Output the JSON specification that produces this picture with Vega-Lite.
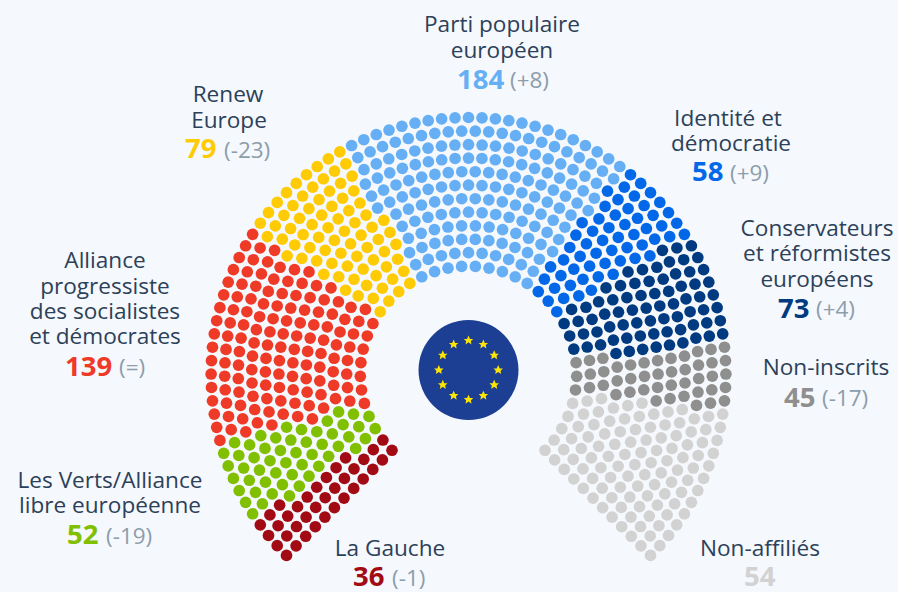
{"$schema":"https://vega.github.io/schema/vega-lite/v6.json","width":898,"height":592,"padding":0,"autosize":{"type":"fit","contains":"padding"},"background":"#f5f8fc","config":{"view":{"stroke":null}},
"encoding":{"x":{"field":"x","type":"quantitative","axis":null,"scale":{"domain":[-468.5,429.5],"nice":false,"zero":false}},"y":{"field":"y","type":"quantitative","axis":null,"scale":{"domain":[-216.7,375.3],"nice":false,"zero":false}}},
"layer":[
{"mark":{"type":"point","filled":true,"opacity":1,"size":136,"shape":"circle"},"encoding":{"color":{"field":"g","type":"nominal","legend":null,"scale":{"domain":["LG","V","SD","RE","PPE","ID","CRE","NI","NA"],"range":["#a30b14","#80c000","#ee3a27","#ffcb05","#66aff5","#0368e8","#003a80","#8f8f8f","#d2d2d2"]}}},
"data":{"values":[
{"g":"LG","x":-76.5,"y":-76.5},{"g":"LG","x":-85.6,"y":-66.2},{"g":"V","x":-93.3,"y":-54.8},{"g":"V","x":-99.5,"y":-42.5},{"g":"SD","x":-104.1,"y":-29.5},{"g":"SD","x":-107,"y":-16},{"g":"SD","x":-108.2,"y":-2.3},{"g":"SD","x":-107.6,"y":11.5},{"g":"SD","x":-105.3,"y":25},{"g":"SD","x":-101.2,"y":38.2},{"g":"SD","x":-95.6,"y":50.7},{"g":"RE","x":-88.3,"y":62.5},{"g":"RE","x":-79.7,"y":73.2},{"g":"RE","x":-69.8,"y":82.7},{"g":"RE","x":-58.7,"y":90.9},{"g":"PPE","x":-46.7,"y":97.6},{"g":"PPE","x":-33.9,"y":102.8},{"g":"PPE","x":-20.5,"y":106.2},{"g":"PPE","x":-6.9,"y":108},{"g":"PPE","x":6.9,"y":108},{"g":"PPE","x":20.5,"y":106.2},{"g":"PPE","x":33.9,"y":102.8},{"g":"PPE","x":46.7,"y":97.6},{"g":"PPE","x":58.7,"y":90.9},{"g":"ID","x":69.8,"y":82.7},{"g":"ID","x":79.7,"y":73.2},{"g":"ID","x":88.3,"y":62.5},{"g":"CRE","x":95.6,"y":50.7},{"g":"CRE","x":101.2,"y":38.2},{"g":"CRE","x":105.3,"y":25},{"g":"NI","x":107.6,"y":11.5},{"g":"NI","x":108.2,"y":-2.3},{"g":"NI","x":107,"y":-16},{"g":"NA","x":104.1,"y":-29.5},{"g":"NA","x":99.5,"y":-42.5},{"g":"NA","x":93.3,"y":-54.8},{"g":"NA","x":85.6,"y":-66.2},{"g":"NA","x":76.5,"y":-76.5},
{"g":"LG","x":-86.1,"y":-86.1},{"g":"LG","x":-95.2,"y":-75.9},{"g":"V","x":-103.1,"y":-64.8},{"g":"V","x":-109.7,"y":-52.8},{"g":"V","x":-115,"y":-40.2},{"g":"SD","x":-118.7,"y":-27.1},{"g":"SD","x":-121,"y":-13.6},{"g":"SD","x":-121.8,"y":0},{"g":"SD","x":-121,"y":13.6},{"g":"SD","x":-118.7,"y":27.1},{"g":"SD","x":-115,"y":40.2},{"g":"SD","x":-109.7,"y":52.8},{"g":"SD","x":-103.1,"y":64.8},{"g":"RE","x":-95.2,"y":75.9},{"g":"RE","x":-86.1,"y":86.1},{"g":"RE","x":-75.9,"y":95.2},{"g":"RE","x":-64.8,"y":103.1},{"g":"PPE","x":-52.8,"y":109.7},{"g":"PPE","x":-40.2,"y":115},{"g":"PPE","x":-27.1,"y":118.7},{"g":"PPE","x":-13.6,"y":121},{"g":"PPE","x":0,"y":121.8},{"g":"PPE","x":13.6,"y":121},{"g":"PPE","x":27.1,"y":118.7},{"g":"PPE","x":40.2,"y":115},{"g":"PPE","x":52.8,"y":109.7},{"g":"PPE","x":64.8,"y":103.1},{"g":"ID","x":75.9,"y":95.2},{"g":"ID","x":86.1,"y":86.1},{"g":"ID","x":95.2,"y":75.9},{"g":"CRE","x":103.1,"y":64.8},{"g":"CRE","x":109.7,"y":52.8},{"g":"CRE","x":115,"y":40.2},{"g":"CRE","x":118.7,"y":27.1},{"g":"NI","x":121,"y":13.6},{"g":"NI","x":121.8,"y":0},{"g":"NI","x":121,"y":-13.6},{"g":"NA","x":118.7,"y":-27.1},{"g":"NA","x":115,"y":-40.2},{"g":"NA","x":109.7,"y":-52.8},{"g":"NA","x":103.1,"y":-64.8},{"g":"NA","x":95.2,"y":-75.9},{"g":"NA","x":86.1,"y":-86.1},
{"g":"LG","x":-95.7,"y":-95.7},{"g":"LG","x":-104.7,"y":-85.6},{"g":"V","x":-112.8,"y":-74.7},{"g":"V","x":-119.7,"y":-63},{"g":"V","x":-125.4,"y":-50.7},{"g":"V","x":-129.9,"y":-37.9},{"g":"SD","x":-133,"y":-24.7},{"g":"SD","x":-134.8,"y":-11.3},{"g":"SD","x":-135.3,"y":2.3},{"g":"SD","x":-134.4,"y":15.8},{"g":"SD","x":-132.1,"y":29.2},{"g":"SD","x":-128.5,"y":42.2},{"g":"SD","x":-123.6,"y":54.9},{"g":"SD","x":-117.5,"y":67},{"g":"RE","x":-110.3,"y":78.4},{"g":"RE","x":-101.9,"y":89},{"g":"RE","x":-92.4,"y":98.8},{"g":"RE","x":-82.1,"y":107.6},{"g":"RE","x":-70.9,"y":115.2},{"g":"PPE","x":-59,"y":121.8},{"g":"PPE","x":-46.5,"y":127},{"g":"PPE","x":-33.6,"y":131.1},{"g":"PPE","x":-20.3,"y":133.8},{"g":"PPE","x":-6.8,"y":135.1},{"g":"PPE","x":6.8,"y":135.1},{"g":"PPE","x":20.3,"y":133.8},{"g":"PPE","x":33.6,"y":131.1},{"g":"PPE","x":46.5,"y":127},{"g":"PPE","x":59,"y":121.8},{"g":"PPE","x":70.9,"y":115.2},{"g":"ID","x":82.1,"y":107.6},{"g":"ID","x":92.4,"y":98.8},{"g":"ID","x":101.9,"y":89},{"g":"ID","x":110.3,"y":78.4},{"g":"CRE","x":117.5,"y":67},{"g":"CRE","x":123.6,"y":54.9},{"g":"CRE","x":128.5,"y":42.2},{"g":"CRE","x":132.1,"y":29.2},{"g":"NI","x":134.4,"y":15.8},{"g":"NI","x":135.3,"y":2.3},{"g":"NI","x":134.8,"y":-11.3},{"g":"NA","x":133,"y":-24.7},{"g":"NA","x":129.9,"y":-37.9},{"g":"NA","x":125.4,"y":-50.7},{"g":"NA","x":119.7,"y":-63},{"g":"NA","x":112.8,"y":-74.7},{"g":"NA","x":104.7,"y":-85.6},{"g":"NA","x":95.7,"y":-95.7},
{"g":"LG","x":-105.3,"y":-105.3},{"g":"LG","x":-114.5,"y":-95.1},{"g":"LG","x":-122.9,"y":-84.1},{"g":"V","x":-130.1,"y":-72.5},{"g":"V","x":-136.2,"y":-60.1},{"g":"V","x":-141.2,"y":-47.3},{"g":"SD","x":-144.9,"y":-34.1},{"g":"SD","x":-147.5,"y":-20.6},{"g":"SD","x":-148.7,"y":-6.9},{"g":"SD","x":-148.7,"y":6.9},{"g":"SD","x":-147.5,"y":20.6},{"g":"SD","x":-144.9,"y":34.1},{"g":"SD","x":-141.2,"y":47.3},{"g":"SD","x":-136.2,"y":60.1},{"g":"SD","x":-130.1,"y":72.5},{"g":"RE","x":-122.9,"y":84.1},{"g":"RE","x":-114.5,"y":95.1},{"g":"RE","x":-105.3,"y":105.3},{"g":"RE","x":-95.1,"y":114.5},{"g":"RE","x":-84.1,"y":122.9},{"g":"RE","x":-72.5,"y":130.1},{"g":"PPE","x":-60.1,"y":136.2},{"g":"PPE","x":-47.3,"y":141.2},{"g":"PPE","x":-34.1,"y":144.9},{"g":"PPE","x":-20.6,"y":147.5},{"g":"PPE","x":-6.9,"y":148.7},{"g":"PPE","x":6.9,"y":148.7},{"g":"PPE","x":20.6,"y":147.5},{"g":"PPE","x":34.1,"y":144.9},{"g":"PPE","x":47.3,"y":141.2},{"g":"PPE","x":60.1,"y":136.2},{"g":"PPE","x":72.5,"y":130.1},{"g":"PPE","x":84.1,"y":122.9},{"g":"ID","x":95.1,"y":114.5},{"g":"ID","x":105.3,"y":105.3},{"g":"ID","x":114.5,"y":95.1},{"g":"ID","x":122.9,"y":84.1},{"g":"CRE","x":130.1,"y":72.5},{"g":"CRE","x":136.2,"y":60.1},{"g":"CRE","x":141.2,"y":47.3},{"g":"CRE","x":144.9,"y":34.1},{"g":"CRE","x":147.5,"y":20.6},{"g":"NI","x":148.7,"y":6.9},{"g":"NI","x":148.7,"y":-6.9},{"g":"NI","x":147.5,"y":-20.6},{"g":"NA","x":144.9,"y":-34.1},{"g":"NA","x":141.2,"y":-47.3},{"g":"NA","x":136.2,"y":-60.1},{"g":"NA","x":130.1,"y":-72.5},{"g":"NA","x":122.9,"y":-84.1},{"g":"NA","x":114.5,"y":-95.1},{"g":"NA","x":105.3,"y":-105.3},
{"g":"LG","x":-114.8,"y":-114.8},{"g":"LG","x":-124.1,"y":-104.7},{"g":"LG","x":-132.4,"y":-94},{"g":"V","x":-139.9,"y":-82.5},{"g":"V","x":-146.3,"y":-70.5},{"g":"V","x":-151.7,"y":-57.9},{"g":"SD","x":-156.1,"y":-45},{"g":"SD","x":-159.3,"y":-31.7},{"g":"SD","x":-161.4,"y":-18.2},{"g":"SD","x":-162.3,"y":-4.6},{"g":"SD","x":-162.1,"y":9.1},{"g":"SD","x":-160.8,"y":22.7},{"g":"SD","x":-158.3,"y":36.1},{"g":"SD","x":-154.7,"y":49.3},{"g":"SD","x":-150,"y":62.1},{"g":"SD","x":-144.3,"y":74.5},{"g":"SD","x":-137.5,"y":86.4},{"g":"RE","x":-129.8,"y":97.6},{"g":"RE","x":-121.1,"y":108.2},{"g":"RE","x":-111.6,"y":118},{"g":"RE","x":-101.3,"y":127},{"g":"RE","x":-90.2,"y":135},{"g":"RE","x":-78.6,"y":142.1},{"g":"PPE","x":-66.3,"y":148.2},{"g":"PPE","x":-53.6,"y":153.3},{"g":"PPE","x":-40.6,"y":157.3},{"g":"PPE","x":-27.2,"y":160.1},{"g":"PPE","x":-13.6,"y":161.8},{"g":"PPE","x":0,"y":162.4},{"g":"PPE","x":13.6,"y":161.8},{"g":"PPE","x":27.2,"y":160.1},{"g":"PPE","x":40.6,"y":157.3},{"g":"PPE","x":53.6,"y":153.3},{"g":"PPE","x":66.3,"y":148.2},{"g":"PPE","x":78.6,"y":142.1},{"g":"PPE","x":90.2,"y":135},{"g":"ID","x":101.3,"y":127},{"g":"ID","x":111.6,"y":118},{"g":"ID","x":121.1,"y":108.2},{"g":"ID","x":129.8,"y":97.6},{"g":"CRE","x":137.5,"y":86.4},{"g":"CRE","x":144.3,"y":74.5},{"g":"CRE","x":150,"y":62.1},{"g":"CRE","x":154.7,"y":49.3},{"g":"CRE","x":158.3,"y":36.1},{"g":"CRE","x":160.8,"y":22.7},{"g":"NI","x":162.1,"y":9.1},{"g":"NI","x":162.3,"y":-4.6},{"g":"NI","x":161.4,"y":-18.2},{"g":"NA","x":159.3,"y":-31.7},{"g":"NA","x":156.1,"y":-45},{"g":"NA","x":151.7,"y":-57.9},{"g":"NA","x":146.3,"y":-70.5},{"g":"NA","x":139.9,"y":-82.5},{"g":"NA","x":132.4,"y":-94},{"g":"NA","x":124.1,"y":-104.7},{"g":"NA","x":114.8,"y":-114.8},
{"g":"LG","x":-124.5,"y":-124.5},{"g":"LG","x":-133.7,"y":-114.5},{"g":"LG","x":-142.1,"y":-103.8},{"g":"V","x":-149.7,"y":-92.5},{"g":"V","x":-156.4,"y":-80.7},{"g":"V","x":-162.2,"y":-68.4},{"g":"V","x":-167,"y":-55.7},{"g":"SD","x":-170.8,"y":-42.6},{"g":"SD","x":-173.5,"y":-29.3},{"g":"SD","x":-175.3,"y":-15.8},{"g":"SD","x":-176,"y":-2.3},{"g":"SD","x":-175.6,"y":11.3},{"g":"SD","x":-174.2,"y":24.8},{"g":"SD","x":-171.8,"y":38.2},{"g":"SD","x":-168.3,"y":51.4},{"g":"SD","x":-163.9,"y":64.2},{"g":"SD","x":-158.4,"y":76.6},{"g":"SD","x":-152,"y":88.7},{"g":"RE","x":-144.7,"y":100.1},{"g":"RE","x":-136.6,"y":111},{"g":"RE","x":-127.6,"y":121.2},{"g":"RE","x":-117.9,"y":130.7},{"g":"RE","x":-107.4,"y":139.4},{"g":"RE","x":-96.4,"y":147.3},{"g":"RE","x":-84.7,"y":154.3},{"g":"PPE","x":-72.5,"y":160.4},{"g":"PPE","x":-60,"y":165.5},{"g":"PPE","x":-47,"y":169.6},{"g":"PPE","x":-33.8,"y":172.7},{"g":"PPE","x":-20.3,"y":174.8},{"g":"PPE","x":-6.8,"y":175.9},{"g":"PPE","x":6.8,"y":175.9},{"g":"PPE","x":20.3,"y":174.8},{"g":"PPE","x":33.8,"y":172.7},{"g":"PPE","x":47,"y":169.6},{"g":"PPE","x":60,"y":165.5},{"g":"PPE","x":72.5,"y":160.4},{"g":"PPE","x":84.7,"y":154.3},{"g":"PPE","x":96.4,"y":147.3},{"g":"ID","x":107.4,"y":139.4},{"g":"ID","x":117.9,"y":130.7},{"g":"ID","x":127.6,"y":121.2},{"g":"ID","x":136.6,"y":111},{"g":"ID","x":144.7,"y":100.1},{"g":"CRE","x":152,"y":88.7},{"g":"CRE","x":158.4,"y":76.6},{"g":"CRE","x":163.9,"y":64.2},{"g":"CRE","x":168.3,"y":51.4},{"g":"CRE","x":171.8,"y":38.2},{"g":"CRE","x":174.2,"y":24.8},{"g":"NI","x":175.6,"y":11.3},{"g":"NI","x":176,"y":-2.3},{"g":"NI","x":175.3,"y":-15.8},{"g":"NA","x":173.5,"y":-29.3},{"g":"NA","x":170.8,"y":-42.6},{"g":"NA","x":167,"y":-55.7},{"g":"NA","x":162.2,"y":-68.4},{"g":"NA","x":156.4,"y":-80.7},{"g":"NA","x":149.7,"y":-92.5},{"g":"NA","x":142.1,"y":-103.8},{"g":"NA","x":133.7,"y":-114.5},{"g":"NA","x":124.5,"y":-124.5},
{"g":"LG","x":-134.1,"y":-134.1},{"g":"LG","x":-143.3,"y":-124.1},{"g":"LG","x":-151.8,"y":-113.6},{"g":"V","x":-159.5,"y":-102.5},{"g":"V","x":-166.4,"y":-90.9},{"g":"V","x":-172.5,"y":-78.8},{"g":"V","x":-177.7,"y":-66.2},{"g":"V","x":-181.9,"y":-53.4},{"g":"SD","x":-185.3,"y":-40.3},{"g":"SD","x":-187.7,"y":-27},{"g":"SD","x":-189.1,"y":-13.5},{"g":"SD","x":-189.6,"y":0},{"g":"SD","x":-189.1,"y":13.5},{"g":"SD","x":-187.7,"y":27},{"g":"SD","x":-185.3,"y":40.3},{"g":"SD","x":-181.9,"y":53.4},{"g":"SD","x":-177.7,"y":66.2},{"g":"SD","x":-172.5,"y":78.8},{"g":"SD","x":-166.4,"y":90.9},{"g":"SD","x":-159.5,"y":102.5},{"g":"RE","x":-151.8,"y":113.6},{"g":"RE","x":-143.3,"y":124.1},{"g":"RE","x":-134.1,"y":134.1},{"g":"RE","x":-124.1,"y":143.3},{"g":"RE","x":-113.6,"y":151.8},{"g":"RE","x":-102.5,"y":159.5},{"g":"PPE","x":-90.9,"y":166.4},{"g":"PPE","x":-78.8,"y":172.5},{"g":"PPE","x":-66.2,"y":177.7},{"g":"PPE","x":-53.4,"y":181.9},{"g":"PPE","x":-40.3,"y":185.3},{"g":"PPE","x":-27,"y":187.7},{"g":"PPE","x":-13.5,"y":189.1},{"g":"PPE","x":0,"y":189.6},{"g":"PPE","x":13.5,"y":189.1},{"g":"PPE","x":27,"y":187.7},{"g":"PPE","x":40.3,"y":185.3},{"g":"PPE","x":53.4,"y":181.9},{"g":"PPE","x":66.2,"y":177.7},{"g":"PPE","x":78.8,"y":172.5},{"g":"PPE","x":90.9,"y":166.4},{"g":"PPE","x":102.5,"y":159.5},{"g":"ID","x":113.6,"y":151.8},{"g":"ID","x":124.1,"y":143.3},{"g":"ID","x":134.1,"y":134.1},{"g":"ID","x":143.3,"y":124.1},{"g":"ID","x":151.8,"y":113.6},{"g":"CRE","x":159.5,"y":102.5},{"g":"CRE","x":166.4,"y":90.9},{"g":"CRE","x":172.5,"y":78.8},{"g":"CRE","x":177.7,"y":66.2},{"g":"CRE","x":181.9,"y":53.4},{"g":"CRE","x":185.3,"y":40.3},{"g":"CRE","x":187.7,"y":27},{"g":"NI","x":189.1,"y":13.5},{"g":"NI","x":189.6,"y":0},{"g":"NI","x":189.1,"y":-13.5},{"g":"NI","x":187.7,"y":-27},{"g":"NA","x":185.3,"y":-40.3},{"g":"NA","x":181.9,"y":-53.4},{"g":"NA","x":177.7,"y":-66.2},{"g":"NA","x":172.5,"y":-78.8},{"g":"NA","x":166.4,"y":-90.9},{"g":"NA","x":159.5,"y":-102.5},{"g":"NA","x":151.8,"y":-113.6},{"g":"NA","x":143.3,"y":-124.1},{"g":"NA","x":134.1,"y":-134.1},
{"g":"LG","x":-143.6,"y":-143.6},{"g":"LG","x":-152.8,"y":-133.8},{"g":"LG","x":-161.3,"y":-123.4},{"g":"V","x":-169.2,"y":-112.4},{"g":"V","x":-176.3,"y":-100.9},{"g":"V","x":-182.6,"y":-89},{"g":"V","x":-188.1,"y":-76.7},{"g":"V","x":-192.7,"y":-64},{"g":"SD","x":-196.6,"y":-51.1},{"g":"SD","x":-199.5,"y":-38},{"g":"SD","x":-201.6,"y":-24.6},{"g":"SD","x":-202.8,"y":-11.2},{"g":"SD","x":-203.1,"y":2.2},{"g":"SD","x":-202.5,"y":15.7},{"g":"SD","x":-201,"y":29.1},{"g":"SD","x":-198.6,"y":42.4},{"g":"SD","x":-195.4,"y":55.5},{"g":"SD","x":-191.3,"y":68.3},{"g":"SD","x":-186.3,"y":80.8},{"g":"SD","x":-180.6,"y":93},{"g":"SD","x":-174,"y":104.8},{"g":"RE","x":-166.6,"y":116.1},{"g":"RE","x":-158.6,"y":126.9},{"g":"RE","x":-149.8,"y":137.1},{"g":"RE","x":-140.4,"y":146.8},{"g":"RE","x":-130.4,"y":155.7},{"g":"RE","x":-119.7,"y":164},{"g":"RE","x":-108.6,"y":171.6},{"g":"PPE","x":-97,"y":178.5},{"g":"PPE","x":-84.9,"y":184.5},{"g":"PPE","x":-72.5,"y":189.7},{"g":"PPE","x":-59.8,"y":194.1},{"g":"PPE","x":-46.8,"y":197.6},{"g":"PPE","x":-33.6,"y":200.3},{"g":"PPE","x":-20.2,"y":202.1},{"g":"PPE","x":-6.7,"y":203},{"g":"PPE","x":6.7,"y":203},{"g":"PPE","x":20.2,"y":202.1},{"g":"PPE","x":33.6,"y":200.3},{"g":"PPE","x":46.8,"y":197.6},{"g":"PPE","x":59.8,"y":194.1},{"g":"PPE","x":72.5,"y":189.7},{"g":"PPE","x":84.9,"y":184.5},{"g":"PPE","x":97,"y":178.5},{"g":"PPE","x":108.6,"y":171.6},{"g":"PPE","x":119.7,"y":164},{"g":"ID","x":130.4,"y":155.7},{"g":"ID","x":140.4,"y":146.8},{"g":"ID","x":149.8,"y":137.1},{"g":"ID","x":158.6,"y":126.9},{"g":"ID","x":166.6,"y":116.1},{"g":"CRE","x":174,"y":104.8},{"g":"CRE","x":180.6,"y":93},{"g":"CRE","x":186.3,"y":80.8},{"g":"CRE","x":191.3,"y":68.3},{"g":"CRE","x":195.4,"y":55.5},{"g":"CRE","x":198.6,"y":42.4},{"g":"CRE","x":201,"y":29.1},{"g":"NI","x":202.5,"y":15.7},{"g":"NI","x":203.1,"y":2.2},{"g":"NI","x":202.8,"y":-11.2},{"g":"NI","x":201.6,"y":-24.6},{"g":"NA","x":199.5,"y":-38},{"g":"NA","x":196.6,"y":-51.1},{"g":"NA","x":192.7,"y":-64},{"g":"NA","x":188.1,"y":-76.7},{"g":"NA","x":182.6,"y":-89},{"g":"NA","x":176.3,"y":-100.9},{"g":"NA","x":169.2,"y":-112.4},{"g":"NA","x":161.3,"y":-123.4},{"g":"NA","x":152.8,"y":-133.8},{"g":"NA","x":143.6,"y":-143.6},
{"g":"LG","x":-153.2,"y":-153.2},{"g":"LG","x":-162.4,"y":-143.5},{"g":"LG","x":-171,"y":-133.1},{"g":"V","x":-179,"y":-122.2},{"g":"V","x":-186.1,"y":-110.9},{"g":"V","x":-192.7,"y":-99.2},{"g":"V","x":-198.5,"y":-87},{"g":"V","x":-203.5,"y":-74.6},{"g":"V","x":-207.7,"y":-61.8},{"g":"SD","x":-211.1,"y":-48.9},{"g":"SD","x":-213.8,"y":-35.6},{"g":"SD","x":-215.5,"y":-22.3},{"g":"SD","x":-216.5,"y":-9},{"g":"SD","x":-216.7,"y":4.5},{"g":"SD","x":-216,"y":17.9},{"g":"SD","x":-214.4,"y":31.2},{"g":"SD","x":-212.1,"y":44.5},{"g":"SD","x":-208.9,"y":57.5},{"g":"SD","x":-205,"y":70.4},{"g":"SD","x":-200.2,"y":82.9},{"g":"SD","x":-194.7,"y":95.2},{"g":"SD","x":-188.4,"y":107.1},{"g":"RE","x":-181.4,"y":118.5},{"g":"RE","x":-173.7,"y":129.5},{"g":"RE","x":-165.4,"y":140},{"g":"RE","x":-156.4,"y":150},{"g":"RE","x":-146.8,"y":159.4},{"g":"RE","x":-136.6,"y":168.2},{"g":"RE","x":-125.9,"y":176.4},{"g":"RE","x":-114.7,"y":183.8},{"g":"PPE","x":-103.1,"y":190.6},{"g":"PPE","x":-91.1,"y":196.6},{"g":"PPE","x":-78.8,"y":201.9},{"g":"PPE","x":-66.1,"y":206.4},{"g":"PPE","x":-53.2,"y":210.1},{"g":"PPE","x":-40.1,"y":213},{"g":"PPE","x":-26.8,"y":215},{"g":"PPE","x":-13.4,"y":216.3},{"g":"PPE","x":0,"y":216.7},{"g":"PPE","x":13.4,"y":216.3},{"g":"PPE","x":26.8,"y":215},{"g":"PPE","x":40.1,"y":213},{"g":"PPE","x":53.2,"y":210.1},{"g":"PPE","x":66.1,"y":206.4},{"g":"PPE","x":78.8,"y":201.9},{"g":"PPE","x":91.1,"y":196.6},{"g":"PPE","x":103.1,"y":190.6},{"g":"PPE","x":114.7,"y":183.8},{"g":"PPE","x":125.9,"y":176.4},{"g":"ID","x":136.6,"y":168.2},{"g":"ID","x":146.8,"y":159.4},{"g":"ID","x":156.4,"y":150},{"g":"ID","x":165.4,"y":140},{"g":"ID","x":173.7,"y":129.5},{"g":"ID","x":181.4,"y":118.5},{"g":"CRE","x":188.4,"y":107.1},{"g":"CRE","x":194.7,"y":95.2},{"g":"CRE","x":200.2,"y":82.9},{"g":"CRE","x":205,"y":70.4},{"g":"CRE","x":208.9,"y":57.5},{"g":"CRE","x":212.1,"y":44.5},{"g":"CRE","x":214.4,"y":31.2},{"g":"NI","x":216,"y":17.9},{"g":"NI","x":216.7,"y":4.5},{"g":"NI","x":216.5,"y":-9},{"g":"NI","x":215.5,"y":-22.3},{"g":"NA","x":213.8,"y":-35.6},{"g":"NA","x":211.1,"y":-48.9},{"g":"NA","x":207.7,"y":-61.8},{"g":"NA","x":203.5,"y":-74.6},{"g":"NA","x":198.5,"y":-87},{"g":"NA","x":192.7,"y":-99.2},{"g":"NA","x":186.1,"y":-110.9},{"g":"NA","x":179,"y":-122.2},{"g":"NA","x":171,"y":-133.1},{"g":"NA","x":162.4,"y":-143.5},{"g":"NA","x":153.2,"y":-153.2},
{"g":"LG","x":-162.8,"y":-162.8},{"g":"LG","x":-172,"y":-153},{"g":"LG","x":-180.8,"y":-142.5},{"g":"LG","x":-188.9,"y":-131.6},{"g":"V","x":-196.3,"y":-120.3},{"g":"V","x":-203,"y":-108.5},{"g":"V","x":-209,"y":-96.4},{"g":"V","x":-214.4,"y":-83.9},{"g":"V","x":-218.9,"y":-71.1},{"g":"SD","x":-222.7,"y":-58.1},{"g":"SD","x":-225.8,"y":-44.9},{"g":"SD","x":-228,"y":-31.5},{"g":"SD","x":-229.5,"y":-18.1},{"g":"SD","x":-230.2,"y":-4.5},{"g":"SD","x":-230,"y":9},{"g":"SD","x":-229.1,"y":22.6},{"g":"SD","x":-227.4,"y":36},{"g":"SD","x":-224.9,"y":49.3},{"g":"SD","x":-221.6,"y":62.5},{"g":"SD","x":-217.5,"y":75.4},{"g":"SD","x":-212.7,"y":88.1},{"g":"SD","x":-207.1,"y":100.5},{"g":"SD","x":-200.9,"y":112.5},{"g":"SD","x":-193.9,"y":124.1},{"g":"RE","x":-186.2,"y":135.3},{"g":"RE","x":-177.9,"y":146},{"g":"RE","x":-169,"y":156.3},{"g":"RE","x":-159.6,"y":165.9},{"g":"RE","x":-149.5,"y":175},{"g":"RE","x":-139,"y":183.5},{"g":"RE","x":-127.9,"y":191.4},{"g":"RE","x":-116.4,"y":198.6},{"g":"PPE","x":-104.5,"y":205.1},{"g":"PPE","x":-92.2,"y":210.9},{"g":"PPE","x":-79.7,"y":216},{"g":"PPE","x":-66.8,"y":220.3},{"g":"PPE","x":-53.7,"y":223.8},{"g":"PPE","x":-40.5,"y":226.6},{"g":"PPE","x":-27,"y":228.6},{"g":"PPE","x":-13.6,"y":229.8},{"g":"PPE","x":0,"y":230.2},{"g":"PPE","x":13.6,"y":229.8},{"g":"PPE","x":27,"y":228.6},{"g":"PPE","x":40.5,"y":226.6},{"g":"PPE","x":53.7,"y":223.8},{"g":"PPE","x":66.8,"y":220.3},{"g":"PPE","x":79.7,"y":216},{"g":"PPE","x":92.2,"y":210.9},{"g":"PPE","x":104.5,"y":205.1},{"g":"PPE","x":116.4,"y":198.6},{"g":"PPE","x":127.9,"y":191.4},{"g":"ID","x":139,"y":183.5},{"g":"ID","x":149.5,"y":175},{"g":"ID","x":159.6,"y":165.9},{"g":"ID","x":169,"y":156.3},{"g":"ID","x":177.9,"y":146},{"g":"ID","x":186.2,"y":135.3},{"g":"CRE","x":193.9,"y":124.1},{"g":"CRE","x":200.9,"y":112.5},{"g":"CRE","x":207.1,"y":100.5},{"g":"CRE","x":212.7,"y":88.1},{"g":"CRE","x":217.5,"y":75.4},{"g":"CRE","x":221.6,"y":62.5},{"g":"CRE","x":224.9,"y":49.3},{"g":"CRE","x":227.4,"y":36},{"g":"NI","x":229.1,"y":22.6},{"g":"NI","x":230,"y":9},{"g":"NI","x":230.2,"y":-4.5},{"g":"NI","x":229.5,"y":-18.1},{"g":"NI","x":228,"y":-31.5},{"g":"NA","x":225.8,"y":-44.9},{"g":"NA","x":222.7,"y":-58.1},{"g":"NA","x":218.9,"y":-71.1},{"g":"NA","x":214.4,"y":-83.9},{"g":"NA","x":209,"y":-96.4},{"g":"NA","x":203,"y":-108.5},{"g":"NA","x":196.3,"y":-120.3},{"g":"NA","x":188.9,"y":-131.6},{"g":"NA","x":180.8,"y":-142.5},{"g":"NA","x":172,"y":-153},{"g":"NA","x":162.8,"y":-162.8},
{"g":"LG","x":-172.4,"y":-172.4},{"g":"LG","x":-181.7,"y":-162.5},{"g":"LG","x":-190.4,"y":-152.2},{"g":"LG","x":-198.6,"y":-141.4},{"g":"V","x":-206.1,"y":-130.2},{"g":"V","x":-213,"y":-118.7},{"g":"V","x":-219.2,"y":-106.6},{"g":"V","x":-224.8,"y":-94.3},{"g":"V","x":-229.7,"y":-81.7},{"g":"V","x":-233.9,"y":-68.9},{"g":"SD","x":-237.3,"y":-55.8},{"g":"SD","x":-240,"y":-42.6},{"g":"SD","x":-242,"y":-29.2},{"g":"SD","x":-243.3,"y":-15.8},{"g":"SD","x":-243.8,"y":-2.2},{"g":"SD","x":-243.5,"y":11.3},{"g":"SD","x":-242.5,"y":24.7},{"g":"SD","x":-240.8,"y":38.1},{"g":"SD","x":-238.3,"y":51.4},{"g":"SD","x":-235.1,"y":64.5},{"g":"SD","x":-231.2,"y":77.5},{"g":"SD","x":-226.5,"y":90.2},{"g":"SD","x":-221.2,"y":102.6},{"g":"SD","x":-215.2,"y":114.7},{"g":"SD","x":-208.4,"y":126.5},{"g":"RE","x":-201.2,"y":137.8},{"g":"RE","x":-193.2,"y":148.7},{"g":"RE","x":-184.6,"y":159.2},{"g":"RE","x":-175.6,"y":169.1},{"g":"RE","x":-165.9,"y":178.6},{"g":"RE","x":-155.8,"y":187.5},{"g":"RE","x":-145.1,"y":195.9},{"g":"RE","x":-134,"y":203.6},{"g":"RE","x":-122.6,"y":210.8},{"g":"PPE","x":-110.7,"y":217.2},{"g":"PPE","x":-98.4,"y":223},{"g":"PPE","x":-86,"y":228.1},{"g":"PPE","x":-73.2,"y":232.6},{"g":"PPE","x":-60.2,"y":236.3},{"g":"PPE","x":-47,"y":239.2},{"g":"PPE","x":-33.7,"y":241.5},{"g":"PPE","x":-20.2,"y":243},{"g":"PPE","x":-6.8,"y":243.7},{"g":"PPE","x":6.8,"y":243.7},{"g":"PPE","x":20.2,"y":243},{"g":"PPE","x":33.7,"y":241.5},{"g":"PPE","x":47,"y":239.2},{"g":"PPE","x":60.2,"y":236.3},{"g":"PPE","x":73.2,"y":232.6},{"g":"PPE","x":86,"y":228.1},{"g":"PPE","x":98.4,"y":223},{"g":"PPE","x":110.7,"y":217.2},{"g":"PPE","x":122.6,"y":210.8},{"g":"PPE","x":134,"y":203.6},{"g":"PPE","x":145.1,"y":195.9},{"g":"ID","x":155.8,"y":187.5},{"g":"ID","x":165.9,"y":178.6},{"g":"ID","x":175.6,"y":169.1},{"g":"ID","x":184.6,"y":159.2},{"g":"ID","x":193.2,"y":148.7},{"g":"ID","x":201.2,"y":137.8},{"g":"CRE","x":208.4,"y":126.5},{"g":"CRE","x":215.2,"y":114.7},{"g":"CRE","x":221.2,"y":102.6},{"g":"CRE","x":226.5,"y":90.2},{"g":"CRE","x":231.2,"y":77.5},{"g":"CRE","x":235.1,"y":64.5},{"g":"CRE","x":238.3,"y":51.4},{"g":"CRE","x":240.8,"y":38.1},{"g":"NI","x":242.5,"y":24.7},{"g":"NI","x":243.5,"y":11.3},{"g":"NI","x":243.8,"y":-2.2},{"g":"NI","x":243.3,"y":-15.8},{"g":"NI","x":242,"y":-29.2},{"g":"NA","x":240,"y":-42.6},{"g":"NA","x":237.3,"y":-55.8},{"g":"NA","x":233.9,"y":-68.9},{"g":"NA","x":229.7,"y":-81.7},{"g":"NA","x":224.8,"y":-94.3},{"g":"NA","x":219.2,"y":-106.6},{"g":"NA","x":213,"y":-118.7},{"g":"NA","x":206.1,"y":-130.2},{"g":"NA","x":198.6,"y":-141.4},{"g":"NA","x":190.4,"y":-152.2},{"g":"NA","x":181.7,"y":-162.5},{"g":"NA","x":172.4,"y":-172.4},
{"g":"LG","x":-182,"y":-182},{"g":"LG","x":-191.3,"y":-172.2},{"g":"LG","x":-200,"y":-162},{"g":"LG","x":-208.2,"y":-151.3},{"g":"V","x":-215.9,"y":-140.2},{"g":"V","x":-222.9,"y":-128.7},{"g":"V","x":-229.3,"y":-116.9},{"g":"V","x":-235.1,"y":-104.7},{"g":"V","x":-240.3,"y":-92.2},{"g":"V","x":-244.8,"y":-79.5},{"g":"SD","x":-248.6,"y":-66.6},{"g":"SD","x":-251.8,"y":-53.5},{"g":"SD","x":-254.2,"y":-40.3},{"g":"SD","x":-256,"y":-26.9},{"g":"SD","x":-257,"y":-13.5},{"g":"SD","x":-257.4,"y":0},{"g":"SD","x":-257,"y":13.5},{"g":"SD","x":-256,"y":26.9},{"g":"SD","x":-254.2,"y":40.3},{"g":"SD","x":-251.8,"y":53.5},{"g":"SD","x":-248.6,"y":66.6},{"g":"SD","x":-244.8,"y":79.5},{"g":"SD","x":-240.3,"y":92.2},{"g":"SD","x":-235.1,"y":104.7},{"g":"SD","x":-229.3,"y":116.9},{"g":"SD","x":-222.9,"y":128.7},{"g":"SD","x":-215.9,"y":140.2},{"g":"RE","x":-208.2,"y":151.3},{"g":"RE","x":-200,"y":162},{"g":"RE","x":-191.3,"y":172.2},{"g":"RE","x":-182,"y":182},{"g":"RE","x":-172.2,"y":191.3},{"g":"RE","x":-162,"y":200},{"g":"RE","x":-151.3,"y":208.2},{"g":"RE","x":-140.2,"y":215.9},{"g":"RE","x":-128.7,"y":222.9},{"g":"PPE","x":-116.9,"y":229.3},{"g":"PPE","x":-104.7,"y":235.1},{"g":"PPE","x":-92.2,"y":240.3},{"g":"PPE","x":-79.5,"y":244.8},{"g":"PPE","x":-66.6,"y":248.6},{"g":"PPE","x":-53.5,"y":251.8},{"g":"PPE","x":-40.3,"y":254.2},{"g":"PPE","x":-26.9,"y":256},{"g":"PPE","x":-13.5,"y":257},{"g":"PPE","x":0,"y":257.4},{"g":"PPE","x":13.5,"y":257},{"g":"PPE","x":26.9,"y":256},{"g":"PPE","x":40.3,"y":254.2},{"g":"PPE","x":53.5,"y":251.8},{"g":"PPE","x":66.6,"y":248.6},{"g":"PPE","x":79.5,"y":244.8},{"g":"PPE","x":92.2,"y":240.3},{"g":"PPE","x":104.7,"y":235.1},{"g":"PPE","x":116.9,"y":229.3},{"g":"PPE","x":128.7,"y":222.9},{"g":"PPE","x":140.2,"y":215.9},{"g":"PPE","x":151.3,"y":208.2},{"g":"ID","x":162,"y":200},{"g":"ID","x":172.2,"y":191.3},{"g":"ID","x":182,"y":182},{"g":"ID","x":191.3,"y":172.2},{"g":"ID","x":200,"y":162},{"g":"ID","x":208.2,"y":151.3},{"g":"ID","x":215.9,"y":140.2},{"g":"CRE","x":222.9,"y":128.7},{"g":"CRE","x":229.3,"y":116.9},{"g":"CRE","x":235.1,"y":104.7},{"g":"CRE","x":240.3,"y":92.2},{"g":"CRE","x":244.8,"y":79.5},{"g":"CRE","x":248.6,"y":66.6},{"g":"CRE","x":251.8,"y":53.5},{"g":"CRE","x":254.2,"y":40.3},{"g":"NI","x":256,"y":26.9},{"g":"NI","x":257,"y":13.5},{"g":"NI","x":257.4,"y":0},{"g":"NI","x":257,"y":-13.5},{"g":"NI","x":256,"y":-26.9},{"g":"NA","x":254.2,"y":-40.3},{"g":"NA","x":251.8,"y":-53.5},{"g":"NA","x":248.6,"y":-66.6},{"g":"NA","x":244.8,"y":-79.5},{"g":"NA","x":240.3,"y":-92.2},{"g":"NA","x":235.1,"y":-104.7},{"g":"NA","x":229.3,"y":-116.9},{"g":"NA","x":222.9,"y":-128.7},{"g":"NA","x":215.9,"y":-140.2},{"g":"NA","x":208.2,"y":-151.3},{"g":"NA","x":200,"y":-162},{"g":"NA","x":191.3,"y":-172.2},{"g":"NA","x":182,"y":-182}
]}},
{"data":{"values":[{"x":0,"y":4}]},"mark":{"type":"point","filled":true,"opacity":1,"size":10000,"shape":"circle","color":"#1c3f94"}},
{"data":{"values":[{"x":0,"y":33.7},{"x":14.85,"y":29.7},{"x":25.7,"y":18.85},{"x":29.7,"y":4},{"x":25.7,"y":-10.85},{"x":14.85,"y":-21.7},{"x":0,"y":-25.7},{"x":-14.85,"y":-21.7},{"x":-25.7,"y":-10.85},{"x":-29.7,"y":4},{"x":-25.7,"y":18.85},{"x":-14.85,"y":29.7}]},"mark":{"type":"point","filled":true,"opacity":1,"size":100,"color":"#ffe600","shape":"M0,-1L0.294,-0.309L0.951,-0.309L0.476,0.118L0.588,0.809L0,0.382L-0.588,0.809L-0.476,0.118L-0.951,-0.309L-0.294,-0.309Z"}},
{"data":{"values":[{"t":"Parti populaire","x":33.5,"y":351.3},{"t":"européen","x":33.5,"y":325.3},{"t":"Renew","x":-240.5,"y":281.3},{"t":"Europe","x":-239.5,"y":255.3},{"t":"Identité et","x":259.5,"y":257.3},{"t":"démocratie","x":262.5,"y":232.3},{"t":"Conservateurs","x":348.5,"y":147.3},{"t":"et réformistes","x":348.5,"y":122.3},{"t":"européens","x":348.5,"y":96.3},{"t":"Non-inscrits","x":357.5,"y":7.3},{"t":"Non-affiliés","x":291.5,"y":-173.7},{"t":"La Gauche","x":-78.5,"y":-173.7},{"t":"Les Verts/Alliance","x":-358.5,"y":-105.7},{"t":"libre européenne","x":-358.5,"y":-130.7},{"t":"Alliance","x":-363.5,"y":115.3},{"t":"progressiste","x":-363.5,"y":89.3},{"t":"des socialistes","x":-363.5,"y":63.3},{"t":"et démocrates","x":-363.5,"y":38.3}]},"mark":{"type":"text","font":"Open Sans","fontSize":22.6,"align":"center","baseline":"middle","dy":1.5,"color":"#2c4159"},"encoding":{"text":{"field":"t"}}},
{"data":{"values":[{"t":"184","g":"PPE","x":-11.5,"y":295.3},{"t":"79","g":"RE","x":-283.5,"y":225.3},{"t":"58","g":"ID","x":223.5,"y":202.3},{"t":"73","g":"CRE","x":309.5,"y":65.3},{"t":"45","g":"NI","x":315.5,"y":-23.7},{"t":"54","g":"NA","x":275.5,"y":-203.7},{"t":"36","g":"LG","x":-115.5,"y":-203.7},{"t":"52","g":"V","x":-401.5,"y":-161.7},{"t":"139","g":"SD","x":-403.5,"y":7.3}]},"mark":{"type":"text","font":"Open Sans","fontWeight":"bold","fontSize":27.5,"align":"left","baseline":"middle","dy":1},"encoding":{"text":{"field":"t"},"color":{"field":"g","type":"nominal","legend":null}}},
{"data":{"values":[{"t":"(+8)","x":41.5,"y":294.3},{"t":"(-23)","x":-244.5,"y":224.3},{"t":"(+9)","x":261.5,"y":201.3},{"t":"(+4)","x":347.5,"y":64.3},{"t":"(-17)","x":353.5,"y":-24.7},{"t":"(-1)","x":-76.5,"y":-204.7},{"t":"(-19)","x":-362.5,"y":-162.7},{"t":"(=)","x":-349.5,"y":6.3}]},"mark":{"type":"text","font":"Open Sans","fontSize":22.5,"align":"left","baseline":"middle","dy":0.5,"color":"#8c9dab"},"encoding":{"text":{"field":"t"}}}
]}
